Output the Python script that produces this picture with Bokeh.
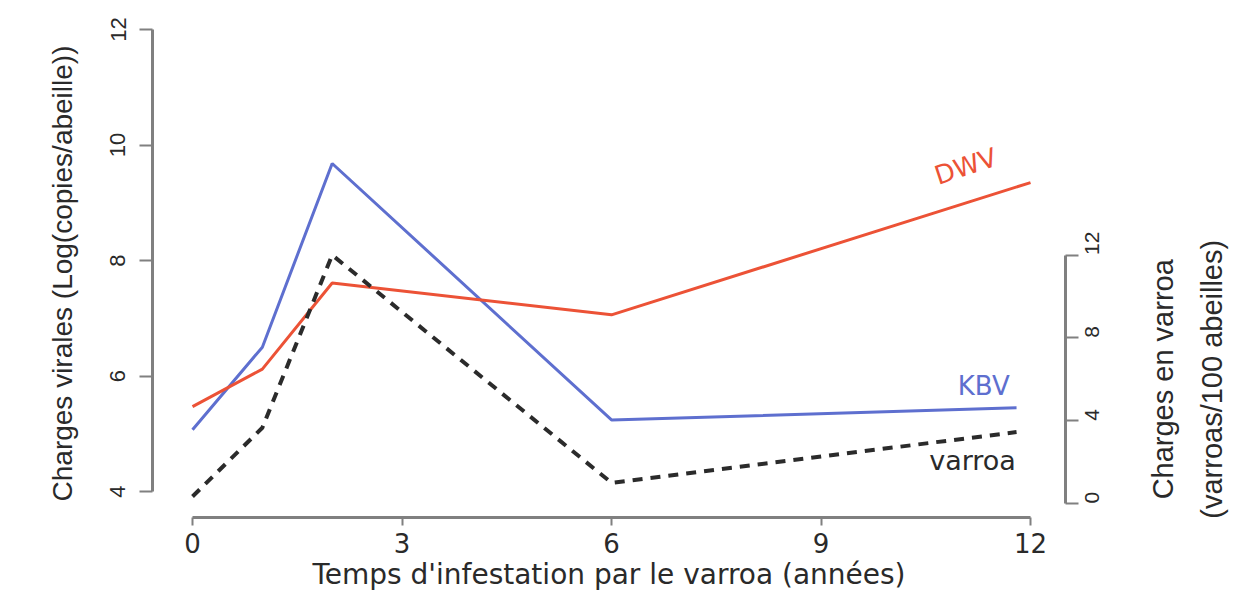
import math
from bokeh.plotting import figure
from bokeh.layouts import row
from bokeh.models import Range1d, LinearAxis, FixedTicker, Label
from bokeh.embed import file_html
from bokeh.resources import INLINE

# ---- data ----
years_dwv = [0, 1, 2, 6, 12]
dwv = [5.47, 6.12, 7.61, 7.06, 9.35]

years_kbv = [0, 1, 2, 6, 11.8]
kbv = [5.07, 6.50, 9.68, 5.24, 5.45]

years_varroa = [0, 1, 2, 6, 11.8]
varroa = [0.34, 3.66, 12.0, 1.0, 3.45]

x_ticks = [0, 3, 6, 9, 12]
left_ticks = [4, 6, 8, 10, 12]
right_ticks = [0, 4, 8, 12]

x_title = "Temps d'infestation par le varroa (années)"
left_title = "Charges virales (Log(copies/abeille))"
right_title_1 = "Charges en varroa"
right_title_2 = "(varroas/100 abeilles)"

RED = "#EC5236"
BLUE = "#5E6FCF"
BLACK = "#2b2b2b"
AXIS = "#808080"
TXT = "#2a2a2a"

varroa_range = Range1d(-0.675, 22.89)

p = figure(width=1125, height=593, output_backend="svg", toolbar_location=None,
           x_range=Range1d(-0.573, 12.501), y_range=Range1d(3.551, 12.0),
           min_border_left=152, min_border_right=60, min_border_top=29,
           min_border_bottom=75)
p.grid.visible = False
p.outline_line_color = None
p.background_fill_color = "white"
p.border_fill_color = "white"

# x axis
xa = p.xaxis[0]
xa.ticker = FixedTicker(ticks=x_ticks)
xa.bounds = (0, 12)
xa.axis_line_color = AXIS
xa.axis_line_width = 3
xa.major_tick_line_color = AXIS
xa.major_tick_line_width = 2
xa.major_tick_out = 8
xa.major_tick_in = 0
xa.minor_tick_line_color = None
xa.major_label_text_font = "DejaVu Sans"
xa.major_label_text_font_size = "26px"
xa.major_label_text_color = TXT
xa.major_label_standoff = 7
xa.axis_label = x_title
xa.axis_label_text_font = "DejaVu Sans"
xa.axis_label_text_font_size = "28px"
xa.axis_label_text_font_style = "normal"
xa.axis_label_text_color = TXT
xa.axis_label_standoff = 2

# left axis
ya = p.yaxis[0]
ya.ticker = FixedTicker(ticks=left_ticks)
ya.bounds = (4, 12)
ya.axis_line_color = AXIS
ya.axis_line_width = 3
ya.major_tick_line_color = AXIS
ya.major_tick_line_width = 2
ya.major_tick_out = 13
ya.major_tick_in = 0
ya.minor_tick_line_color = None
ya.major_label_orientation = "vertical"
ya.major_label_text_font = "Liberation Sans"
ya.major_label_text_font_size = "22px"
ya.major_label_text_color = TXT
ya.major_label_standoff = 14
ya.axis_label = left_title
ya.axis_label_text_font = "Liberation Sans"
ya.axis_label_text_font_size = "28px"
ya.axis_label_text_font_style = "normal"
ya.axis_label_text_color = TXT
ya.axis_label_standoff = 30

# right axis (varroa)
p.extra_y_ranges = {"varroa": varroa_range}
ra = LinearAxis(y_range_name="varroa", ticker=FixedTicker(ticks=right_ticks), bounds=(0, 12))
ra.axis_line_color = AXIS
ra.axis_line_width = 3
ra.major_tick_line_color = AXIS
ra.major_tick_line_width = 2
ra.major_tick_out = 13
ra.major_tick_in = 0
ra.minor_tick_line_color = None
ra.major_label_orientation = math.pi / 2
ra.major_label_text_font = "Liberation Sans"
ra.major_label_text_font_size = "21px"
ra.major_label_text_color = TXT
ra.major_label_standoff = 14
p.add_layout(ra, "right")

# lines
p.line(years_kbv, kbv, line_color=BLUE, line_width=3)
p.line(years_dwv, dwv, line_color=RED, line_width=3)
p.line(years_varroa, varroa, y_range_name="varroa", line_color=BLACK,
       line_width=4, line_dash="10 8")

# series labels
p.add_layout(Label(x=11.07, y=9.63, text="DWV", angle=0.32, text_align="center",
                   text_baseline="middle", text_font="DejaVu Sans",
                   text_font_size="26px", text_color=RED))
p.add_layout(Label(x=11.33, y=5.83, text="KBV", text_align="center",
                   text_baseline="middle", text_font="DejaVu Sans",
                   text_font_size="26px", text_color=BLUE))
p.add_layout(Label(x=11.17, y=4.54, text="varroa", text_align="center",
                   text_baseline="middle", text_font="DejaVu Sans",
                   text_font_size="27px", text_color=TXT))

# right-hand panel carrying the two-line title of the varroa axis
p2 = figure(width=117, height=593, output_backend="svg", toolbar_location=None,
            x_range=Range1d(13.361, 15.036), y_range=varroa_range,
            x_axis_location=None, y_axis_location=None,
            min_border_left=0, min_border_right=0, min_border_top=29,
            min_border_bottom=75)
p2.grid.visible = False
p2.outline_line_color = None
p2.background_fill_color = "white"
p2.border_fill_color = "white"
p2.add_layout(Label(x=13.905, y=6, text=right_title_1,
                    angle=math.pi / 2, text_align="center", text_baseline="middle",
                    text_font="Liberation Sans", text_font_size="29px", text_color=TXT))
p2.add_layout(Label(x=14.593, y=6, text=right_title_2,
                    angle=math.pi / 2, text_align="center", text_baseline="middle",
                    text_font="Liberation Sans", text_font_size="29px", text_color=TXT))

layout = row(p, p2, spacing=0)
open("out.html", "w").write(file_html(layout, INLINE))
